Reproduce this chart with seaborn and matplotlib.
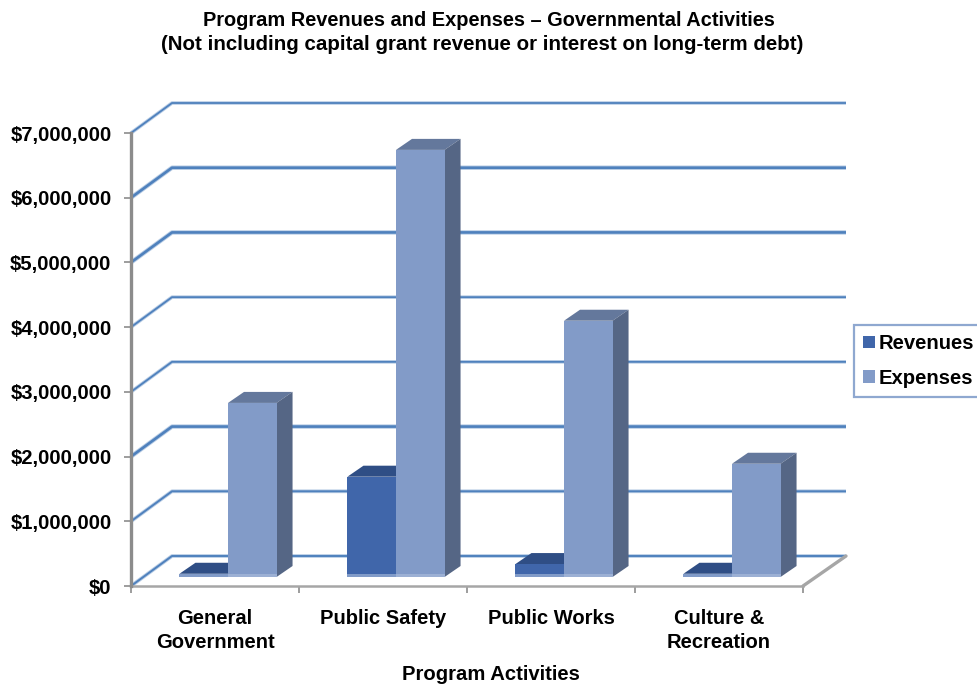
import matplotlib
matplotlib.use("Agg")
import matplotlib.pyplot as plt
from matplotlib.patches import Polygon, Rectangle
from matplotlib.ticker import FuncFormatter, FixedLocator
import pandas as pd
import seaborn as sns

# Program figures in dollars
categories = ["General\nGovernment", "Public Safety", "Public Works", "Culture &\nRecreation"]
revenues = [50000, 1550000, 200000, 50000]
expenses = [2690000, 6600000, 3960000, 1750000]
series_names = ["Revenues", "Expenses"]
grid_values = [0, 1000000, 2000000, 3000000, 4000000, 5000000, 6000000, 7000000]
grid_widths = [1.4, 1.4, 1.9, 1.3, 1.3, 1.9, 1.9, 1.3]

FRONT = {"Revenues": "#4066AA", "Expenses": "#829BC8"}
TOP = {"Revenues": "#2F4E85", "Expenses": "#64789C"}
SIDE = {"Revenues": "#2F4E85", "Expenses": "#556685"}
GRID = "#4F81BD"
HALO = "#B9CDE5"
AXIS = "#8C8C8C"

sns.set_theme(style="white")
plt.rcParams["font.family"] = ["Liberation Sans", "DejaVu Sans"]
plt.rcParams["font.weight"] = "bold"

W, H = 978, 687
LEFT, RIGHT, Y0, Y7 = 131, 803, 586, 133
fig = plt.figure(figsize=(W / 100, H / 100), dpi=100, facecolor="white")
ax = fig.add_axes([LEFT / W, 1 - Y0 / H, (RIGHT - LEFT) / W, (Y0 - Y7) / H])
ax.patch.set_alpha(0)

frame = pd.DataFrame({
    "category": categories * 2,
    "series": [series_names[0]] * 4 + [series_names[1]] * 4,
    "value": revenues + expenses,
})
sns.barplot(data=frame, x="category", y="value", hue="series", hue_order=series_names,
            palette=FRONT, width=0.578, gap=0, dodge=True, saturation=1, ax=ax, zorder=5,
            edgecolor="none", linewidth=0)

ax.set_xlim(-0.5, 3.5)
ax.set_ylim(0, 7000000)

# Pixel lengths expressed in data units
px_x = 4 / (RIGHT - LEFT)
px_y = 7000000 / (Y0 - Y7)
wall_dx, wall_dy = 41 * px_x, 30 * px_y
bar_dx, bar_dy = 13 * px_x, 9 * px_y
depth_dx, depth_dy = 16 * px_x, 11 * px_y

# Back-wall gridlines with their diagonal run along the side wall
for value, lw in zip(grid_values, grid_widths):
    xs = [-0.5, -0.5 + wall_dx, 3.5 + 43 * px_x]
    ys = [value, value + wall_dy, value + wall_dy]
    ax.plot(xs, ys, color=HALO, lw=lw + 1.3, clip_on=False, zorder=1, solid_capstyle="butt")
    ax.plot(xs, ys, color=GRID, lw=lw, clip_on=False, zorder=2, solid_capstyle="butt")

# Floor edge on the right
ax.plot([3.5, 3.5 + 43 * px_x], [0, wall_dy], color="#A6A6A6", lw=2.4, clip_on=False, zorder=2)

# Extrude each bar, pushing it back from the floor edge
bars = [p for p in ax.patches if p.get_height() > 0]
for i, bar in enumerate(bars):
    name = series_names[0] if i < 4 else series_names[1]
    layer = 5 if i < 4 else 7
    bar.set_x(bar.get_x() + bar_dx)
    bar.set_y(bar.get_y() + bar_dy)
    bar.set_clip_on(False)
    bar.set_zorder(layer)
    x0, x1 = bar.get_x(), bar.get_x() + bar.get_width()
    y0, y1 = bar.get_y(), bar.get_y() + bar.get_height()
    ax.add_patch(Polygon([(x0, y1), (x1, y1), (x1 + depth_dx, y1 + depth_dy), (x0 + depth_dx, y1 + depth_dy)],
                         facecolor=TOP[name], edgecolor="none", clip_on=False, zorder=layer - 1))
    ax.add_patch(Polygon([(x1, y0), (x1, y1), (x1 + depth_dx, y1 + depth_dy), (x1 + depth_dx, y0 + depth_dy)],
                         facecolor=SIDE[name], edgecolor="none", clip_on=False, zorder=layer - 1))
    # Pale reflection along the foot of the bar
    ax.add_patch(Rectangle((x0, y0), x1 - x0, 3 * px_y, facecolor="#AEBFDD", edgecolor="none",
                           alpha=0.6, clip_on=False, zorder=layer + 0.5))

# Axes
sns.despine(ax=ax)
ax.spines["left"].set_color(AXIS)
ax.spines["left"].set_linewidth(2.4)
ax.spines["bottom"].set_color("#A6A6A6")
ax.spines["bottom"].set_linewidth(1.8)
ax.spines["left"].set_zorder(3)

ax.yaxis.set_major_locator(FixedLocator(grid_values))
ax.yaxis.set_major_formatter(FuncFormatter(lambda v, _: f"${v:,.0f}"))
ax.tick_params(axis="y", length=5, width=1.2, color=AXIS, left=True, pad=9, labelsize=14.6, labelcolor="black")
ax.set_xticks([0, 1, 2, 3], categories)
ax.xaxis.set_minor_locator(FixedLocator([-0.5, 0.5, 1.5, 2.5, 3.5]))
ax.tick_params(axis="x", which="major", length=0, pad=16.5, labelsize=14.5, labelcolor="black")
ax.tick_params(axis="x", which="minor", length=5, width=1.2, color=AXIS, bottom=True)
for label in ax.get_xticklabels() + ax.get_yticklabels():
    label.set_fontweight("bold")
for label in ax.get_xticklabels():
    label.set_linespacing(1.34)

ax.set_xlabel("")
ax.set_ylabel("")
fig.text(491 / W, 1 - 674 / H, "Program Activities", ha="center", va="center",
         fontsize=14.6, fontweight="bold", color="black")
fig.text(489 / W, 1 - 21 / H, "Program Revenues and Expenses \u2013 Governmental Activities",
         ha="center", va="center", fontsize=14.4, fontweight="bold", color="black")
fig.text(482 / W, 1 - 45 / H, "(Not including capital grant revenue or interest on long-term debt)",
         ha="center", va="center", fontsize=14.8, fontweight="bold", color="black")

# Legend box at the right edge
sns.move_legend(ax, "upper left", bbox_to_anchor=(854 / W, 1 - 325 / H),
                bbox_transform=fig.transFigure, title=None, frameon=True, fancybox=False,
                borderaxespad=0, borderpad=0.45, labelspacing=0.78, handlelength=0.6,
                handleheight=0.6, handletextpad=0.15, fontsize=14.6)
legend = ax.get_legend()
legend.get_frame().set_edgecolor("#8FA8D0")
legend.get_frame().set_linewidth(1.6)
legend.get_frame().set_alpha(1)
legend.set_zorder(10)
for text in legend.get_texts():
    text.set_fontweight("bold")
    text.set_color("black")

fig.savefig("out.png", dpi=100)
